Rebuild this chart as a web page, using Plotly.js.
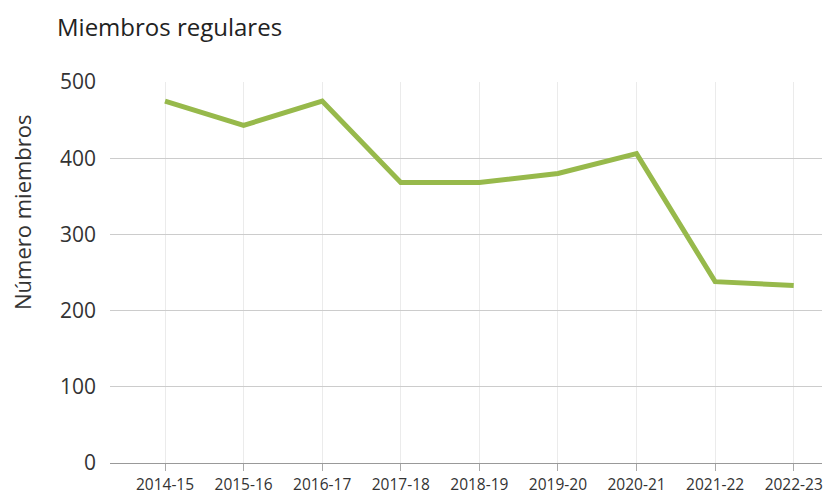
<!DOCTYPE html>
<html>
<head>
<meta charset="utf-8">
<script src="https://cdn.plot.ly/plotly-3.0.1.min.js"></script>
<style>html,body{margin:0;padding:0;background:#fff;}#chart{width:827px;height:495px;}</style>
</head>
<body>
<div id="chart"></div>
<script>
const seasons = ["2014-15","2015-16","2016-17","2017-18","2018-19","2019-20","2020-21","2021-22","2022-23"];
const members = [475, 443, 475, 368, 368, 380, 406, 238, 233];
const yTicks = [0, 100, 200, 300, 400, 500];

const FONT = "'Open Sans', 'Noto Sans', sans-serif";

Plotly.newPlot('chart', [{
  x: seasons,
  y: members,
  type: 'scatter',
  mode: 'lines',
  line: {color: '#97b94b', width: 5},
  hoverinfo: 'x+y'
}], {
  width: 827,
  height: 495,
  margin: {l: 110, r: 5, t: 82, b: 32},
  paper_bgcolor: '#fff',
  plot_bgcolor: '#fff',
  showlegend: false,
  font: {family: FONT, color: '#333'},
  title: {
    text: 'Miembros regulares',
    font: {family: FONT, size: 24, color: '#222'},
    x: 57/827, xanchor: 'left', xref: 'container',
    y: 1 - 28/495, yanchor: 'middle', yref: 'container'
  },
  xaxis: {
    type: 'category',
    range: [-0.7, 8.36],
    showgrid: true,
    gridcolor: '#ebebeb',
    gridwidth: 1,
    showline: true,
    linecolor: '#999',
    linewidth: 1,
    ticks: 'outside',
    ticklen: 7,
    tickcolor: '#aaa',
    ticklabelstandoff: 0,
    tickfont: {family: FONT, size: 15.5, color: '#333'},
    zeroline: false,
    fixedrange: true
  },
  yaxis: {
    range: [0, 500],
    tickvals: yTicks,
    ticktext: yTicks.map(String),
    showgrid: true,
    gridcolor: '#cccccc',
    gridwidth: 1,
    zeroline: false,
    showline: false,
    ticks: '',
    ticklabelstandoff: 13,
    tickfont: {family: FONT, size: 21, color: '#333'},
    fixedrange: true
  },
  annotations: [{
    text: 'Número miembros',
    textangle: -90,
    font: {family: FONT, size: 22, color: '#333'},
    xref: 'paper', x: 0, xanchor: 'center', xshift: -88,
    yref: 'paper', y: (463 - 212) / (463 - 82), yanchor: 'middle',
    showarrow: false
  }]
}, {displayModeBar: false, staticPlot: true});
</script>
</body>
</html>
